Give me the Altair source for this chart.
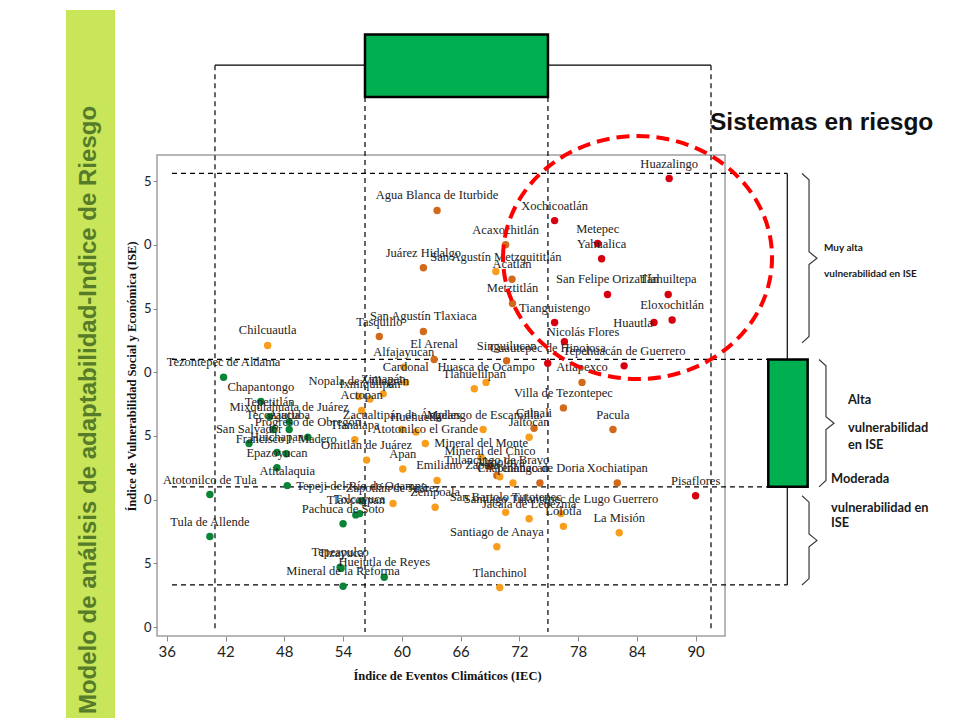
import altair as alt
import pandas as pd

# ---------------- data ----------------
municipios = [
    "Huazalingo", "Agua Blanca de Iturbide", "Xochicoatlán", "Acaxochitlán", "Metepec",
    "Yahualica", "Juárez Hidalgo", "San Agustín Metzquititlán", "Acatlán", "San Felipe Orizatlán",
    "Tlahuiltepa", "Metztitlán", "Eloxochitlán", "Huautla", "Tianguistengo",
    "San Agustín Tlaxiaca", "Tasquillo", "Nicolás Flores", "Chilcuautla", "El Arenal",
    "Singuilucan", "Cuautepec de Hinojosa", "Tepehuacán de Guerrero", "Alfajayucan", "Tezontepec de Aldama",
    "Cardonal", "Huasca de Ocampo", "Atlapexco", "Tlahuelilpan", "Zimapán",
    "Nopala de Villagrán", "Ixmiquilpan", "Chapantongo", "Villa de Tezontepec", "Actopan",
    "Tepetitlán", "Mixquiahuala de Juárez", "Zacualtipán de Ángeles", "Huehuetla", "Molango de Escamilla",
    "Calnali", "Tecozautla", "Ajacuba", "Pacula", "Jaltocán",
    "Progreso de Obregón", "Tlanalapa", "San Salvador", "Atotonilco el Grande", "Francisco I. Madero",
    "Huichapan", "Mineral del Monte", "Omitlán de Juárez", "Mineral del Chico", "Epazoyucan",
    "Apan", "Tulancingo de Bravo", "Almoloya", "Emiliano Zapata", "Chapulhuacán",
    "Tenango de Doria", "Xochiatipan", "Atitalaquia", "Atotonilco de Tula", "Pisaflores",
    "Tepeji del Río de Ocampo", "Zapotlán de Juárez", "Zempoala", "San Bartolo Tutotepec", "Santiago Tulantepec de Lugo Guerrero",
    "Tolcayuca", "Tlaxcoapan", "Jacala de Ledezma", "Pachuca de Soto", "Lolotla",
    "La Misión", "Tula de Allende", "Santiago de Anaya", "Tepeapulco", "Tizayuca",
    "Huejutla de Reyes", "Mineral de la Reforma", "Tlanchinol",
]
iec = [
    87.3, 63.6, 75.6, 70.6, 80.0,
    80.4, 62.2, 69.6, 71.25, 81.0,
    87.2, 71.3, 87.6, 85.75, 75.6,
    62.2, 57.7, 76.6, 46.3, 63.3,
    70.7, 74.9, 82.7, 60.2, 41.8,
    60.4, 68.6, 78.4, 67.4, 58.1,
    55.6, 56.75, 45.6, 76.5, 55.9,
    46.5, 48.5, 60.0, 61.45, 68.3,
    73.5, 46.85, 48.5, 81.56, 73.0,
    50.4, 55.2, 44.4, 62.4, 48.2,
    47.25, 68.1, 56.4, 69.0, 47.25,
    60.1, 69.7, 70.0, 63.6, 71.35,
    74.1, 82.0, 48.3, 40.4, 90.0,
    55.9, 59.1, 63.4, 70.6, 76.25,
    55.7, 55.3, 73.0, 54.0, 76.5,
    82.2, 40.4, 69.7, 53.7, 53.8,
    58.2, 54.0, 70.0,
]
ise = [
    3.52, 3.27, 3.19, 3.00, 3.01,
    2.89, 2.82, 2.79, 2.73, 2.61,
    2.61, 2.54, 2.41, 2.39, 2.39,
    2.32, 2.28, 2.24, 2.21, 2.10,
    2.09, 2.07, 2.05, 2.04, 1.96,
    1.92, 1.92, 1.92, 1.87, 1.83,
    1.81, 1.79, 1.77, 1.72, 1.70,
    1.65, 1.61, 1.55, 1.53, 1.55,
    1.56, 1.55, 1.55, 1.55, 1.49,
    1.49, 1.47, 1.44, 1.44, 1.36,
    1.37, 1.33, 1.31, 1.26, 1.25,
    1.24, 1.19, 1.18, 1.15, 1.13,
    1.13, 1.13, 1.11, 1.04, 1.03,
    0.99, 0.97, 0.94, 0.90, 0.89,
    0.89, 0.88, 0.85, 0.81, 0.79,
    0.74, 0.71, 0.63, 0.47, 0.46,
    0.39, 0.32, 0.31,
]
R, A, M, B = "Muy alto", "Alto", "Medio", "Bajo"
nivel = [
    R, A, R, A, R,
    R, A, M, A, R,
    R, A, R, R, R,
    A, A, R, M, A,
    A, R, R, M, B,
    M, M, A, M, M,
    M, M, B, A, M,
    B, B, M, M, M,
    A, B, B, A, M,
    B, M, B, M, B,
    B, M, M, A, B,
    M, A, M, M, M,
    A, A, B, B, R,
    B, M, M, M, M,
    B, B, M, B, M,
    M, B, M, B, B,
    B, B, M,
]
niveles = ["Bajo", "Medio", "Alto", "Muy alto"]
colores = ["#0a8436", "#f99d1c", "#d2691b", "#d7000f"]

x_ticks = [36, 42, 48, 54, 60, 66, 72, 78, 84, 90]
y_ticks = [0, 0.5, 1, 1.5, 2, 2.5, 3, 3.5]

# box-plot summaries drawn around the scatter
iec_box = {"min": 40.92, "q1": 56.24, "q3": 74.92, "max": 91.57}
ise_box = {"min": 0.33, "q1": 1.10, "q3": 2.10, "max": 3.56}

# brackets on the right (ISE ranges)
brackets = [(3.56, 2.23), (2.10, 1.10), (1.03, 0.33)]

# ---------------- layout constants ----------------
label_override = {"Huautla": (83.6, 2.27), "Nicolás Flores": (78.5, 2.20), "Emiliano Zapata": (65.7, 1.15)}
TOPBOX_Y = (4.16, 4.65)
TOPWHISK_Y = 4.41
VLINE_END = -0.04
HLINE_X0 = 36.53
RBOX_X = (97.42, 101.44)
RWHISK_X = 99.36
BR_X = [(100.86, 101.58, 102.39), (102.6, 103.31, 104.13), (100.86, 101.58, 102.39)]

W, H = 568, 481
X = alt.Scale(domain=[35, 93], nice=False, zero=False)
Y = alt.Scale(domain=[-0.0706, 3.705], nice=False, zero=False)

x_axis = alt.Axis(
    values=x_ticks, title="Índice de Eventos Climáticos (IEC)",
    grid=False, domain=False, tickSize=5, tickColor="#8a8a8a",
    labelFont="Lato", labelFontSize=15, labelColor="#222", labelPadding=3,
    titleFont="Liberation Serif", titleFontWeight="bold", titleFontSize=12.5, titleColor="#111",
    titleX=290, titleY=39, titleBaseline="middle", titleAlign="center")
y_axis = alt.Axis(
    values=y_ticks, format=".1f", labelExpr="slice(datum.label, -1)",
    title="Índice de Vulnerabilidad Social y Económica (ISE)",
    grid=False, domain=False, tickSize=4, tickColor="#8a8a8a",
    labelFont="Lato", labelFontSize=13, labelColor="#222", labelPadding=2,
    titleFont="Liberation Serif", titleFontWeight="bold", titleFontSize=12.5, titleColor="#111",
    titleX=-26, titleY=221, titleAngle=270, titleBaseline="middle", titleAlign="center")


def xe(field):
    return alt.X(field, type="quantitative", scale=X)


def ye(field):
    return alt.Y(field, type="quantitative", scale=Y)


df = pd.DataFrame({"municipio": municipios, "iec": iec, "ise": ise, "nivel": nivel})
df["lx"] = [label_override.get(m, (x, y))[0] for m, x, y in zip(municipios, iec, ise)]
df["ly"] = [label_override.get(m, (x, y))[1] for m, x, y in zip(municipios, iec, ise)]

one = pd.DataFrame({"a": [0]})

# left band
band = alt.Chart(one).mark_rect(color="#c9e65a").encode(
    x=alt.value(-91), x2=alt.value(-42), y=alt.value(-145), y2=alt.value(H + 90))
band_text = alt.Chart(one).mark_text(
    text="Modelo de análisis de adaptabilidad-Indice de Riesgo", angle=270,
    font="Liberation Sans", fontWeight="bold", fontSize=24, color="#567c29",
    align="center", baseline="middle").encode(x=alt.value(-68), y=alt.value(255))

# dashed reference lines (this first scaled layer carries the axes)
vdf = pd.DataFrame({
    "x": [iec_box["min"], iec_box["q1"], iec_box["q3"], iec_box["max"]],
    "y": [TOPWHISK_Y, TOPBOX_Y[0], TOPBOX_Y[0], TOPWHISK_Y],
    "y2": [VLINE_END] * 4})
vlines = alt.Chart(vdf).mark_rule(color="black", strokeWidth=1.2, strokeDash=[5, 4]).encode(
    x=alt.X("x:Q", scale=X, axis=x_axis), y=alt.Y("y:Q", scale=Y, axis=y_axis), y2="y2:Q")
hdf = pd.DataFrame({
    "y": [ise_box["max"], ise_box["q3"], ise_box["q1"], ise_box["min"]],
    "x": [HLINE_X0] * 4,
    "x2": [RWHISK_X, RBOX_X[0], RBOX_X[0], RWHISK_X]})
hlines = alt.Chart(hdf).mark_rule(color="black", strokeWidth=1.2, strokeDash=[5, 4]).encode(
    x=xe("x"), x2="x2:Q", y=ye("y"))

# top (IEC) box plot
twdf = pd.DataFrame({"x": [iec_box["min"]], "x2": [iec_box["max"]], "y": [TOPWHISK_Y]})
twhisk = alt.Chart(twdf).mark_rule(color="black", strokeWidth=1.2).encode(
    x=xe("x"), x2="x2:Q", y=ye("y"))
tbdf = pd.DataFrame({"x": [iec_box["q1"]], "x2": [iec_box["q3"]], "y": [TOPBOX_Y[0]], "y2": [TOPBOX_Y[1]]})
tbox = alt.Chart(tbdf).mark_rect(fill="#00b050", stroke="black", strokeWidth=2.5).encode(
    x=xe("x"), x2="x2:Q", y=ye("y"), y2="y2:Q")

# right (ISE) box plot
rwdf = pd.DataFrame({"x": [RWHISK_X], "y": [ise_box["min"]], "y2": [ise_box["max"]]})
rwhisk = alt.Chart(rwdf).mark_rule(color="black", strokeWidth=1.2).encode(
    x=xe("x"), y=ye("y"), y2="y2:Q")
rbdf = pd.DataFrame({"x": [RBOX_X[0]], "x2": [RBOX_X[1]], "y": [ise_box["q1"]], "y2": [ise_box["q3"]]})
rbox = alt.Chart(rbdf).mark_rect(fill="#00b050", stroke="black", strokeWidth=2.5).encode(
    x=xe("x"), x2="x2:Q", y=ye("y"), y2="y2:Q")

# curly brackets
rows = []
c = 0.05
for i, ((top, bot), (xend, xv, xt)) in enumerate(zip(brackets, BR_X)):
    mid = (top + bot) / 2
    pts = [(xend, top), (xv, top - c), (xv, mid + c), (xt, mid), (xv, mid - c), (xv, bot + c), (xend, bot)]
    for j, (px, py) in enumerate(pts):
        rows.append({"b": i, "o": j, "x": px, "y": py})
brdf = pd.DataFrame(rows)
brack = alt.Chart(brdf).mark_line(color="#3a3a3a", strokeWidth=1.2).encode(
    x=xe("x"), y=ye("y"), detail="b:N", order="o:Q")

# scatter
points = alt.Chart(df).mark_circle(size=55, opacity=1).encode(
    x=xe("iec"), y=ye("ise"),
    color=alt.Color("nivel:N", scale=alt.Scale(domain=niveles, range=colores), legend=None),
)
labels = alt.Chart(df).mark_text(
    font="Liberation Serif", fontSize=12.5, color="#222", dy=-15, align="center", baseline="middle"
).encode(x=xe("lx"), y=ye("ly"), text="municipio:N")

# red dashed ellipse around the risk systems
edf = pd.DataFrame({"x": [84.07], "y": [2.90]})
ell_path = ("M -1 0 C -1 -0.4987 -0.5523 -0.903 0 -0.903 C 0.5523 -0.903 1 -0.4987 1 0 "
            "C 1 0.4987 0.5523 0.903 0 0.903 C -0.5523 0.903 -1 0.4987 -1 0 Z")
ellipse = alt.Chart(edf).mark_point(
    shape=ell_path, size=269 ** 2, filled=False, stroke="#ff0000", strokeWidth=4,
    strokeDash=[13, 7], opacity=1).encode(x=xe("x"), y=ye("y"))

title = alt.Chart(one).mark_text(
    text="Sistemas en riesgo", font="Liberation Sans", fontWeight="bold", fontSize=24.5,
    color="#111", align="left", baseline="middle").encode(x=alt.value(553), y=alt.value(-32))


def note(txt, px, py, size):
    return alt.Chart(one).mark_text(
        text=txt, font="Lato", fontWeight="bold", fontSize=size, color="#1a1a1a",
        align="left", baseline="middle").encode(x=alt.value(px - 157), y=alt.value(py - 155))


notes = [
    note("Muy alta", 824, 248, 10),
    note("vulnerabilidad en ISE", 824, 274, 10),
    note("Alta", 848, 400, 12.8),
    note("vulnerabilidad", 848, 428, 12.8),
    note("en ISE", 848, 445, 12.8),
    note("Moderada", 831, 479, 12.8),
    note("vulnerabilidad en", 831, 508, 12.8),
    note("ISE", 831, 523, 12.8),
]

chart = alt.layer(
    band, band_text, vlines, hlines, twhisk, tbox, rwhisk, rbox, brack,
    points, labels, ellipse, title, *notes
).properties(
    width=W, height=H,
    padding={"left": 149, "top": 147, "right": 216, "bottom": 82},
    autosize=alt.AutoSizeParams(type="none"),
).configure_view(stroke="#a0a0a0", strokeWidth=1.5)

chart.save("out.html", embed_options={"renderer": "svg", "actions": False})
